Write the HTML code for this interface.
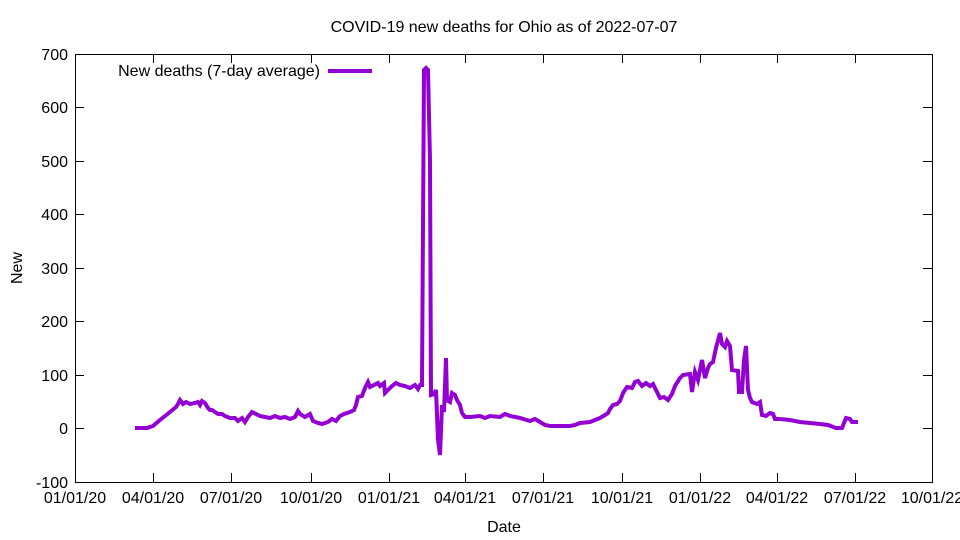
<!DOCTYPE html>
<html><head><meta charset="utf-8"><style>body{margin:0;background:#fff}svg{display:block}text{font-family:"Liberation Sans",sans-serif;font-size:16px;fill:#000}</style></head><body>
<svg width="960" height="540" xmlns="http://www.w3.org/2000/svg">
<rect x="75.5" y="54.5" width="857" height="428" fill="none" stroke="#000"/>
<g stroke="#000">
<path d="M75 54.5h9M75 107.5h9M75 161.5h9M75 214.5h9M75 268.5h9M75 321.5h9M75 375.5h9M75 428.5h9M932 54.5h-9M932 107.5h-9M932 161.5h-9M932 214.5h-9M932 268.5h-9M932 321.5h-9M932 375.5h-9M932 428.5h-9"/>
<path d="M153.5 482v-9M231.5 482v-9M311.5 482v-9M389.5 482v-9M465.5 482v-9M543.5 482v-9M622.5 482v-9M700.5 482v-9M777.5 482v-9M855.5 482v-9M153.5 54v9M231.5 54v9M311.5 54v9M389.5 54v9M465.5 54v9M543.5 54v9M622.5 54v9M700.5 54v9M777.5 54v9M855.5 54v9"/>
</g>
<g text-anchor="end">
<text x="68" y="60">700</text><text x="68" y="113">600</text><text x="68" y="167">500</text><text x="68" y="220">400</text><text x="68" y="274">300</text><text x="68" y="327">200</text><text x="68" y="381">100</text><text x="68" y="434">0</text><text x="68" y="488">-100</text>
</g>
<g text-anchor="middle">
<text x="75" y="503">01/01/20</text><text x="153" y="503">04/01/20</text><text x="231" y="503">07/01/20</text><text x="311" y="503">10/01/20</text><text x="389" y="503">01/01/21</text><text x="465" y="503">04/01/21</text><text x="543" y="503">07/01/21</text><text x="622" y="503">10/01/21</text><text x="700" y="503">01/01/22</text><text x="777" y="503">04/01/22</text><text x="855" y="503">07/01/22</text><text x="932" y="503">10/01/22</text>
<text x="504" y="532">Date</text>
<text x="504" y="32">COVID-19 new deaths for Ohio as of 2022-07-07</text>
<text x="22" y="268" transform="rotate(-90 22 268)">New</text>
</g>
<text x="320" y="76" text-anchor="end">New deaths (7-day average)</text>
<path d="M328 71h44" stroke="#9400d3" stroke-width="4"/>
<polyline fill="none" stroke="#9400d3" stroke-width="4" stroke-linejoin="miter" points="135,428 147,428 153,426 160,420 170,412 176,407 178,404 180,400 183,404 186,402 190,404 195,403 198,402 200,405 202,401 205,403 208,408 210,410 212,410 215,412 218,414 222,414 225,416 230,418 235,418 238,421 242,418 245,422 248,417 252,412 256,414 260,416 265,417 270,418 275,416 280,418 285,417 290,419 295,417 298,411 300,414 305,417 310,414 313,421 318,423 322,424 328,422 332,419 336,421 340,416 344,414 350,412 354,410 356,405 358,397 362,396 365,388 368,382 370,387 374,385 378,383 380,386 384,383 385,393 388,390 392,386 396,383 400,385 405,386 410,388 415,385 418,389 420,385 422,385 424,70 426,68 428,70 430,160 431,395 434,394 436,390 438,440 440,455 442,405 444,412 446,358 447,400 450,402 452,393 455,395 457,400 460,405 462,413 465,417 470,417 480,416 485,418 490,416 500,417 505,414 510,416 520,418 530,421 535,419 540,422 545,425 550,426 560,426 570,426 575,425 580,423 590,422 595,420 600,418 605,415 608,413 610,409 613,405 617,404 620,401 623,393 627,387 632,388 635,382 638,381 642,386 646,383 650,386 653,384 656,390 660,398 664,397 668,400 672,394 675,386 680,378 683,375 690,374 692,392 695,372 698,380 700,370 702,360 705,378 708,368 710,364 713,362 716,348 720,333 722,344 725,347 727,341 730,346 732,370 738,371 739,392 742,392 744,360 746,346 748,390 750,398 752,402 757,404 760,402 762,415 766,416 770,413 773,414 775,419 780,419 790,420 800,422 810,423 820,424 828,425 836,428 842,428 846,418 850,419 852,422 858,422"/>
</svg>
</body></html>
